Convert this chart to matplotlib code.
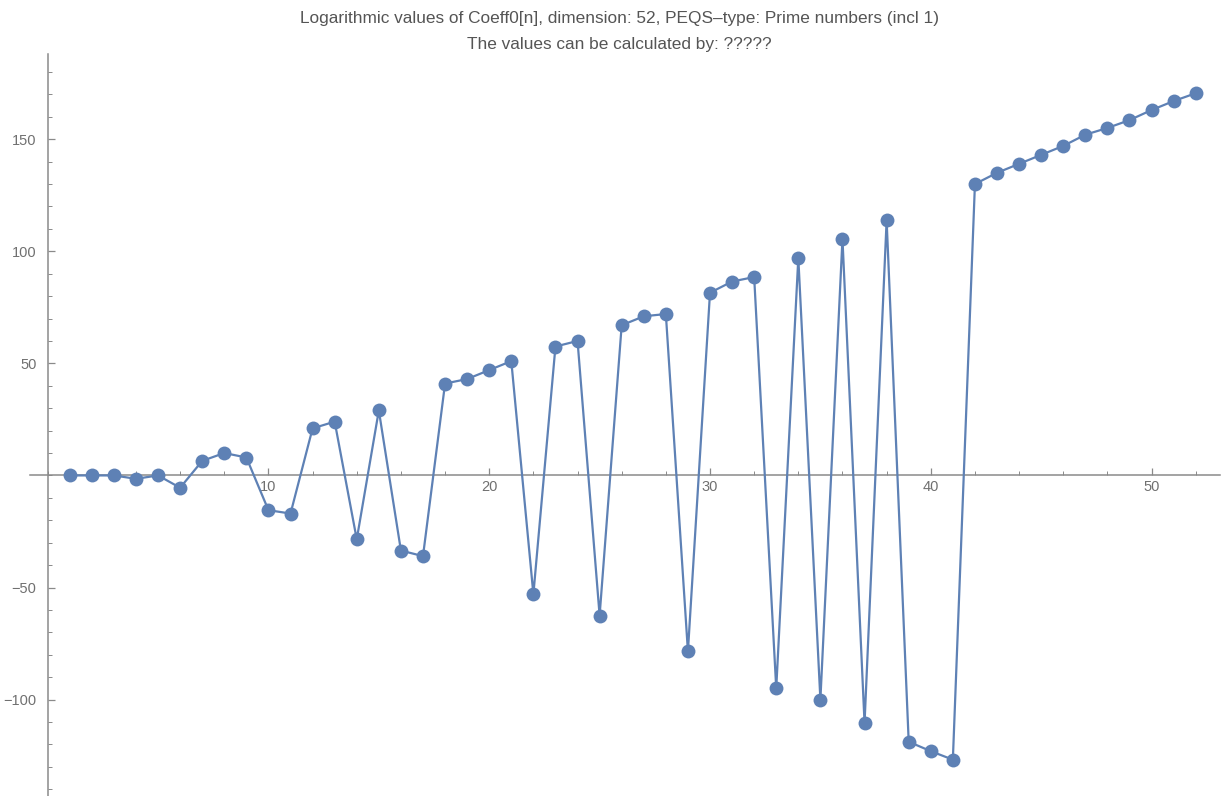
import matplotlib
matplotlib.use("Agg")
import matplotlib.pyplot as plt
from matplotlib.ticker import MultipleLocator, FixedLocator

plt.rcParams['font.family'] = ['Liberation Sans', 'DejaVu Sans']

# Index n and logarithmic coefficient values
n = list(range(1, 53))
log_coeff = [
    0.0, 0.0, 0.0, -1.5, 0.0, -5.5, 6.5, 10.0, 8.0, -15.5,
    -17.0, 21.0, 24.0, -28.5, 29.0, -33.5, -36.0, 41.0, 43.0, 47.0,
    51.0, -53.0, 57.5, 60.0, -62.5, 67.0, 71.0, 72.0, -78.5, 81.5,
    86.5, 88.5, -95.0, 97.0, -100.0, 105.5, -110.5, 113.8, -118.8, -123.0,
    -126.8, 130.0, 135.0, 139.0, 143.0, 147.0, 152.0, 155.0, 158.5, 163.0,
    167.0, 170.5,
]
x_major = [10, 20, 30, 40, 50]
y_major = [-100, -50, 50, 100, 150]
title_lines = [
    "Logarithmic values of Coeff0[n], dimension: 52, PEQS\u2013type: Prime numbers (incl 1)",
    "The values can be calculated by: ?????",
]

W, H = 1222, 796
fig = plt.figure(figsize=(W / 100, H / 100), dpi=100)
ax = fig.add_axes([30 / W, 0.0, 1190 / W, 1 - 54 / H])

line_color = "#5E81B5"
ax.plot(n, log_coeff, color=line_color, lw=1.6, marker="o", ms=10,
        markeredgewidth=0, clip_on=False, zorder=3)

ax.set_xlim(-0.8, 53.1)
ax.set_ylim(-143, 188)

axis_color = "#8a8a8a"
for side in ("top", "right"):
    ax.spines[side].set_visible(False)
ax.spines["left"].set_position(("data", 0))
ax.spines["bottom"].set_position(("data", 0))
for side in ("left", "bottom"):
    ax.spines[side].set_color(axis_color)
    ax.spines[side].set_linewidth(1.1)

ax.xaxis.set_major_locator(FixedLocator(x_major))
ax.xaxis.set_minor_locator(MultipleLocator(2))
ax.yaxis.set_major_locator(FixedLocator(y_major))
ax.yaxis.set_minor_locator(MultipleLocator(10))

ax.tick_params(axis="both", which="major", direction="in", length=5,
               width=0.9, color=axis_color, labelsize=10.5, labelcolor="#707070")
ax.tick_params(axis="both", which="minor", direction="in", length=3,
               width=0.7, color=axis_color)
ax.tick_params(axis="x", which="major", pad=3)
ax.tick_params(axis="y", which="major", pad=8)

title_x = 619 / W
fig.text(title_x, 1 - 18 / H, title_lines[0], ha="center", va="center",
         fontsize=12.4, color="#555555")
fig.text(title_x, 1 - 44 / H, title_lines[1], ha="center", va="center",
         fontsize=12.4, color="#555555")

fig.savefig("out.png", dpi=100)
